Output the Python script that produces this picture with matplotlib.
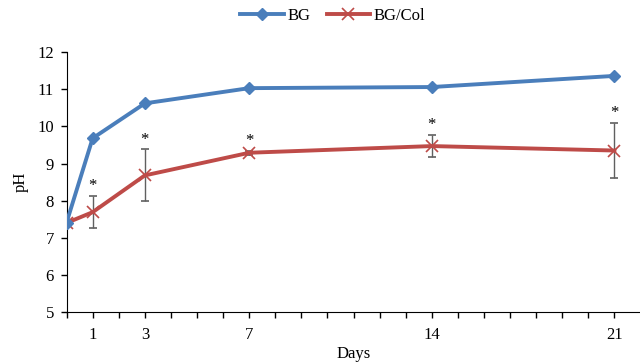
import numpy as np
from matplotlib import pyplot as plt
from matplotlib.lines import Line2D

days = [0, 1, 3, 7, 14, 21]
ph_bg = [7.41, 9.68, 10.62, 11.03, 11.06, 11.36]
ph_bgcol = [7.40, 7.69, 8.68, 9.29, 9.47, 9.35]
err_bgcol = [0.0, 0.43, 0.70, 0.06, 0.30, 0.74]
star_days = [1, 3, 7, 14, 21]
tick_days = [1, 3, 7, 14, 21]

plt.rcParams["font.family"] = "Liberation Serif"

fig = plt.figure(figsize=(6.4, 3.62), dpi=100)
ax = fig.add_axes([0.104, 0.138, 0.896, 0.718])

blue = "#4a7ebb"
red = "#be4b48"

ax.plot(days, ph_bg, color=blue, lw=2.8, marker="D", ms=6, zorder=3)
ax.errorbar(days, ph_bgcol, yerr=err_bgcol, color=red, lw=2.8,
            marker="x", ms=9, mew=1.2,
            ecolor="#606060", elinewidth=1.0, capsize=3, capthick=1.0,
            zorder=2)

# significance markers above the error bars
for d in star_days:
    i = days.index(d)
    ax.text(d, ph_bgcol[i] + err_bgcol[i] + 0.05, "*", ha="center",
            va="bottom", fontsize=12)

ax.set_xlim(0, 21.98)
ax.set_ylim(5, 12)
ax.set_xticks(np.arange(0, 22))
ax.set_xticklabels([str(d) if d in tick_days else "" for d in range(22)])
ax.set_yticks(range(5, 13))
ax.tick_params(axis="both", direction="out", length=4, width=1,
               labelsize=12, pad=5)
ax.tick_params(axis="x", pad=7)
ax.spines["top"].set_visible(False)
ax.spines["right"].set_visible(False)

ax.set_ylabel("pH", fontsize=12, labelpad=6)
ax.set_xlabel("Days", fontsize=12, labelpad=2)

handles = [
    Line2D([], [], color=blue, lw=2.8, marker="D", ms=6, label="BG"),
    Line2D([], [], color=red, lw=2.8, marker="x", ms=9, mew=1.2,
           label="BG/Col"),
]
fig.legend(handles=handles, loc="center", bbox_to_anchor=(0.52, 0.955),
           ncol=2, frameon=False, fontsize=12, handlelength=2.6,
           columnspacing=1.0, handletextpad=0.2)

fig.savefig("out.png", dpi=100)
